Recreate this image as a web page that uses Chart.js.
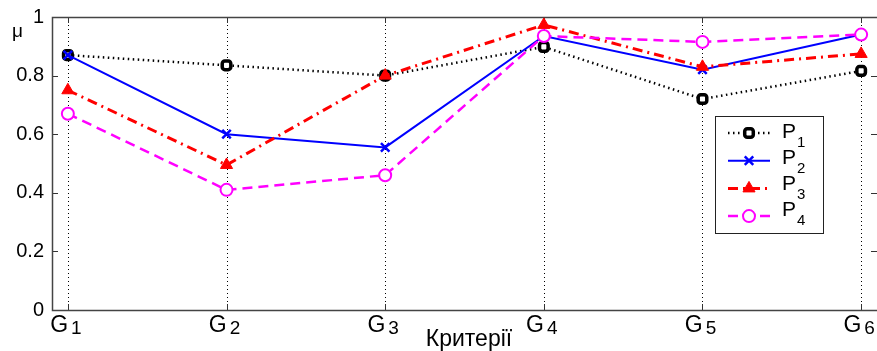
<!DOCTYPE html>
<html>
<head>
<meta charset="utf-8">
<script src="https://cdn.jsdelivr.net/npm/chart.js@4.4.0/dist/chart.umd.min.js"></script>
<style>
  html, body { margin: 0; padding: 0; background: #fff; overflow: hidden; }
  #wrap { position: relative; width: 877px; height: 351px; }
  #chart { display: block; }
</style>
</head>
<body>
<div id="wrap"><canvas id="chart"></canvas></div>
<script>
// criteria G1..G6 (letter + subscript index)
const categories = ['1', '2', '3', '4', '5', '6'];
const seriesNames = ['1', '2', '3', '4']; // P1..P4
const p1 = [0.87, 0.835, 0.80, 0.898, 0.72, 0.816];
const p2 = [0.87, 0.60, 0.555, 0.935, 0.82, 0.94];
const p3 = [0.75, 0.495, 0.80, 0.973, 0.83, 0.874];
const p4 = [0.67, 0.41, 0.46, 0.935, 0.915, 0.94];
const yTicks = [0, 0.2, 0.4, 0.6, 0.8, 1];
const xTitle = 'Критерії';
const yTitle = 'μ';

const FONT = '"Liberation Sans", Arial, sans-serif';

const toPoints = vals => vals.map((v, i) => ({ x: i + 1, y: v }));

// frame, dotted verticals and inward ticks like a matlab axes box
const framePlugin = {
  id: 'frame',
  beforeDatasetsDraw(chart) {
    const { ctx, chartArea: a, scales: { x, y } } = chart;
    ctx.save();
    ctx.strokeStyle = '#000';
    ctx.lineWidth = 1;
    ctx.setLineDash([1, 3]);
    x.ticks.forEach(t => {
      const px = Math.round(x.getPixelForValue(t.value)) + 0.5;
      ctx.beginPath(); ctx.moveTo(px, a.top); ctx.lineTo(px, a.bottom); ctx.stroke();
    });
    ctx.setLineDash([]);
    ctx.strokeStyle = '#333';
    y.ticks.forEach(t => {
      const py = Math.round(y.getPixelForValue(t.value)) + 0.5;
      ctx.beginPath();
      ctx.moveTo(a.left, py); ctx.lineTo(a.left + 6, py);
      ctx.moveTo(a.right, py); ctx.lineTo(a.right - 6, py);
      ctx.stroke();
    });
    x.ticks.forEach(t => {
      const px = Math.round(x.getPixelForValue(t.value)) + 0.5;
      ctx.beginPath();
      ctx.moveTo(px, a.bottom); ctx.lineTo(px, a.bottom - 6);
      ctx.moveTo(px, a.top); ctx.lineTo(px, a.top + 6);
      ctx.stroke();
    });
    // left, top, bottom edges (right edge sits just outside the canvas)
    ctx.strokeStyle = '#444';
    ctx.lineWidth = 1.5;
    ctx.beginPath();
    ctx.moveTo(a.right + 2, a.top + 0.5);
    ctx.lineTo(a.left + 0.5, a.top + 0.5);
    ctx.lineTo(a.left + 0.5, a.bottom + 0.5);
    ctx.lineTo(a.right + 2, a.bottom + 0.5);
    ctx.stroke();
    ctx.restore();
  },
  afterDraw(chart) {
    const { ctx, chartArea: a, scales: { x } } = chart;
    ctx.save();
    ctx.fillStyle = '#000';
    ctx.textBaseline = 'alphabetic';

    // x tick labels G with index
    x.ticks.forEach((t, i) => {
      const px = x.getPixelForValue(t.value);
      ctx.font = '23px ' + FONT;
      const gw = ctx.measureText('G').width;
      ctx.font = '19px ' + FONT;
      const dw = ctx.measureText(categories[i]).width;
      const left = px - (gw + 3 + dw) / 2 - 2;
      ctx.font = '23px ' + FONT;
      ctx.fillText('G', left, a.bottom + 22);
      ctx.font = '19px ' + FONT;
      ctx.fillText(categories[i], left + gw + 3, a.bottom + 24);
    });

    // axis titles
    ctx.font = '23px ' + FONT;
    ctx.textAlign = 'center';
    ctx.fillText(xTitle, 469, 346);
    ctx.font = '19px ' + FONT;
    ctx.textAlign = 'left';
    ctx.fillText(yTitle, 12, 37);

    // legend box
    const box = { x: 715, y: 116, w: 108, h: 117 };
    ctx.fillStyle = '#fff';
    ctx.fillRect(box.x, box.y, box.w, box.h);
    ctx.strokeStyle = '#222';
    ctx.lineWidth = 1;
    ctx.strokeRect(box.x + 0.5, box.y + 0.5, box.w, box.h);
    chart.data.datasets.forEach((ds, i) => {
      const cy = 133 + i * 27.7;
      const base = 138 + i * 26;
      ctx.save();
      ctx.strokeStyle = ds.borderColor;
      ctx.lineWidth = ds.borderWidth;
      ctx.setLineDash(ds.borderDash || []);
      ctx.beginPath(); ctx.moveTo(728, cy); ctx.lineTo(770, cy); ctx.stroke();
      ctx.restore();
      ctx.save();
      ctx.fillStyle = ds.pointBackgroundColor;
      ctx.strokeStyle = ds.pointBorderColor;
      ctx.lineWidth = ds.pointBorderWidth;
      Chart.helpers.drawPoint(ctx, {
        pointStyle: ds.pointStyle, radius: ds.pointRadius, rotation: 0, borderWidth: ds.pointBorderWidth
      }, 749, cy);
      ctx.restore();
      ctx.fillStyle = '#000';
      ctx.font = '21px ' + FONT;
      ctx.fillText('P', 782, base);
      ctx.font = '15px ' + FONT;
      ctx.fillText(seriesNames[i], 797, base + 9);
    });
    ctx.restore();
  }
};

new Chart(document.getElementById('chart'), {
  type: 'line',
  data: {
    datasets: [
      {
        label: 'P1', data: toPoints(p1), order: 4,
        borderColor: '#000', borderWidth: 2.5, borderDash: [1.5, 3.5],
        pointStyle: 'rectRounded', pointRadius: 5, pointBorderWidth: 3.5,
        pointBorderColor: '#000', pointBackgroundColor: '#fff'
      },
      {
        label: 'P2', data: toPoints(p2), order: 3,
        borderColor: '#0000ff', borderWidth: 2,
        pointStyle: 'crossRot', pointRadius: 6, pointBorderWidth: 2.5,
        pointBorderColor: '#0000ff', pointBackgroundColor: '#0000ff'
      },
      {
        label: 'P3', data: toPoints(p3), order: 2,
        borderColor: '#ff0000', borderWidth: 3, borderDash: [10, 5, 2, 5],
        pointStyle: 'triangle', pointRadius: 7, pointBorderWidth: 1,
        pointBorderColor: '#ff0000', pointBackgroundColor: '#ff0000'
      },
      {
        label: 'P4', data: toPoints(p4), order: 1,
        borderColor: '#ff00ff', borderWidth: 2.5, borderDash: [10, 6],
        pointStyle: 'circle', pointRadius: 6, pointBorderWidth: 2,
        pointBorderColor: '#ff00ff', pointBackgroundColor: '#fff'
      }
    ]
  },
  options: {
    responsive: true,
    maintainAspectRatio: false,
    animation: false,
    layout: { autoPadding: false, padding: { top: 17, right: 0, left: 0, bottom: 0 } },
    elements: { line: { tension: 0, fill: false } },
    plugins: { legend: { display: false }, tooltip: { enabled: false } },
    scales: {
      x: {
        type: 'linear', min: 0.9, max: 6.1,
        afterBuildTicks: s => { s.ticks = categories.map((c, i) => ({ value: i + 1 })); },
        afterFit: s => { s.height = 41; s.paddingLeft = 0; s.paddingRight = 0; },
        ticks: { display: false },
        grid: { display: false, drawTicks: false },
        border: { display: false }
      },
      y: {
        min: 0, max: 1,
        afterBuildTicks: s => { s.ticks = yTicks.map(v => ({ value: v })); },
        // fixed width, and no extra room above/below for the end labels
        afterFit: s => { s.width = 52; s.paddingTop = 0; s.paddingBottom = 0; },
        ticks: {
          padding: 8, color: '#000',
          font: { family: FONT, size: 20 },
          callback: v => (v === 0 || v === 1) ? String(v) : v.toFixed(1)
        },
        grid: { display: false, drawTicks: false },
        border: { display: false }
      }
    }
  },
  plugins: [framePlugin]
});
</script>
</body>
</html>
